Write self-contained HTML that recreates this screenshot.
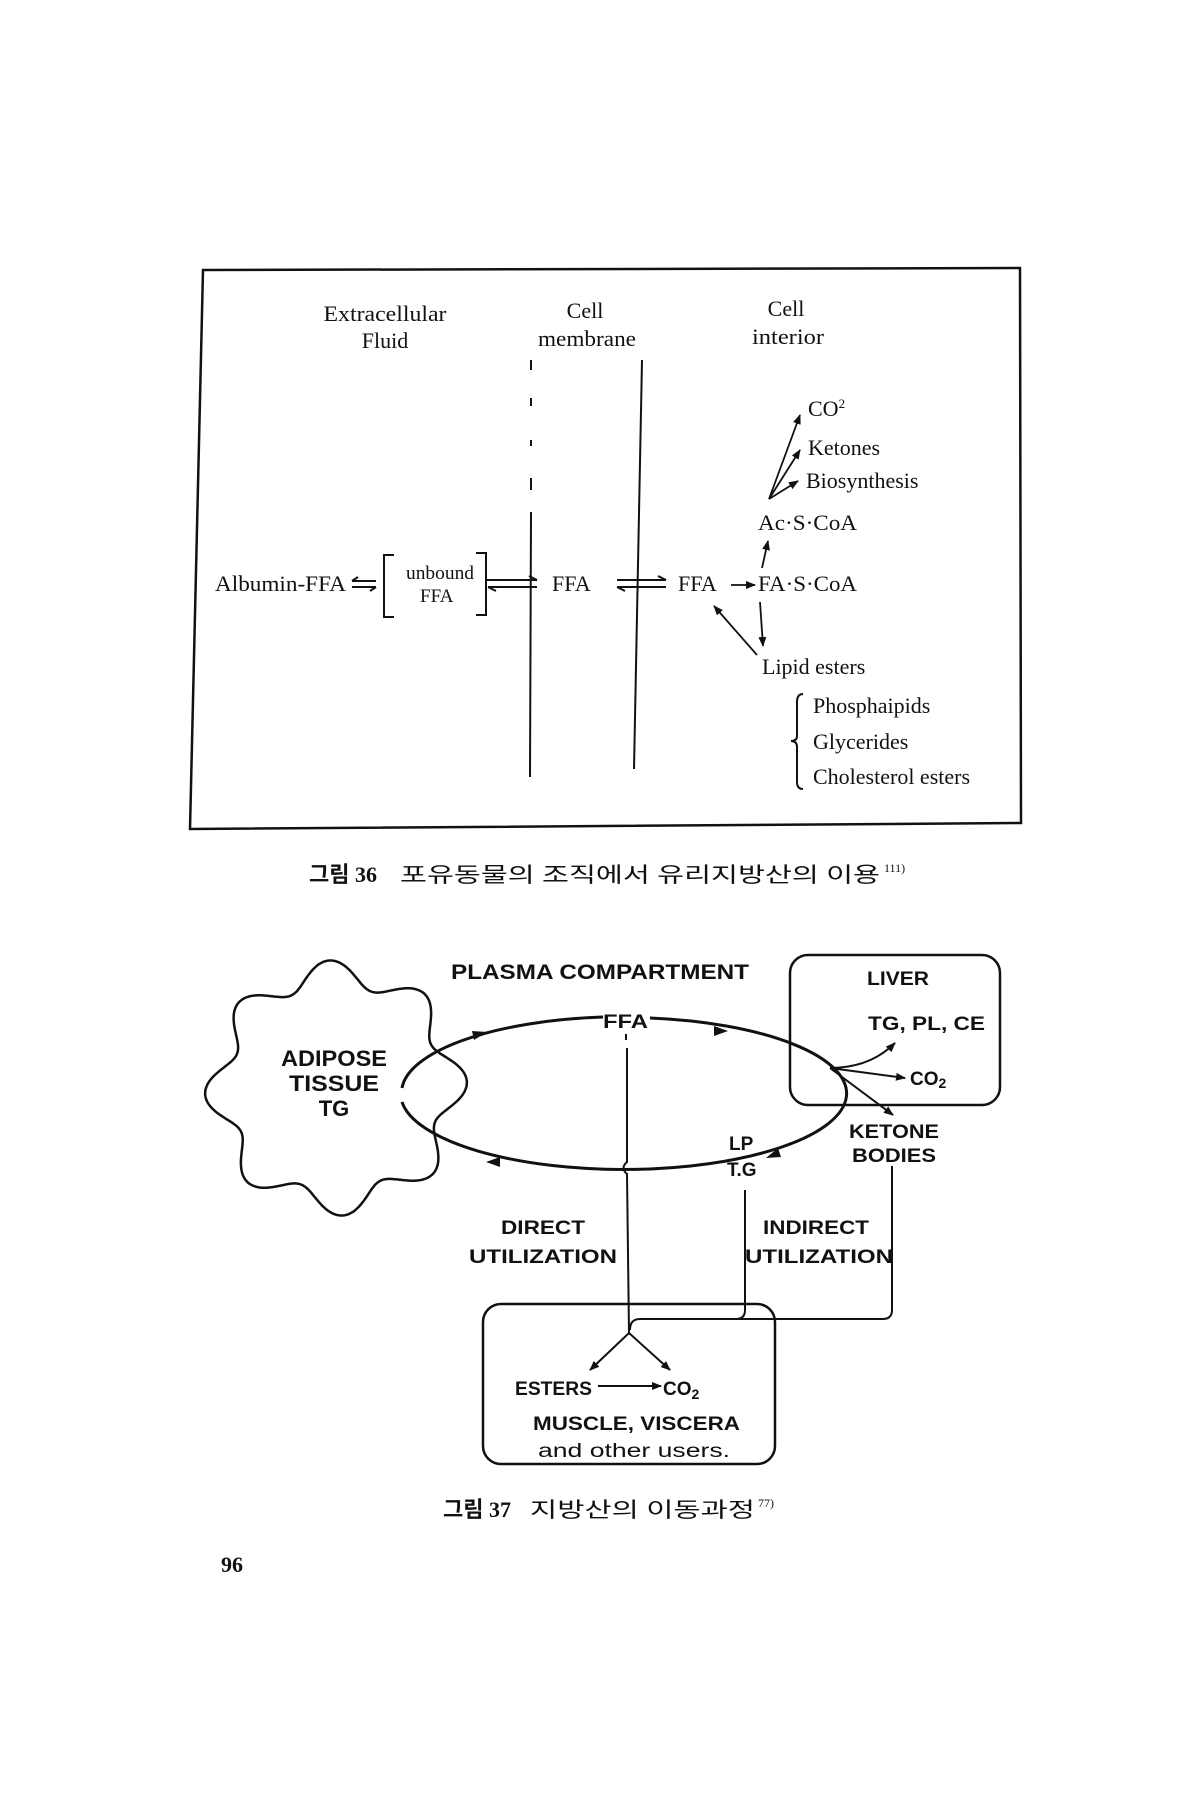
<!DOCTYPE html>
<html><head><meta charset="utf-8"><style>
html,body{margin:0;padding:0;background:#fff;}
svg{display:block;}
.s{font-family:"Liberation Serif","Noto Serif CJK SC",serif;fill:#111;}
.b{font-family:"Liberation Sans","Noto Sans CJK KR",sans-serif;font-weight:bold;fill:#111;}
.k{font-family:"Liberation Serif","Noto Sans CJK KR",serif;fill:#111;}
</style></head><body>
<svg width="1200" height="1800" viewBox="0 0 1200 1800" xmlns="http://www.w3.org/2000/svg">
<defs>
<marker id="ah" markerWidth="10" markerHeight="8" refX="9" refY="4" orient="auto" markerUnits="userSpaceOnUse"><path d="M0,0 L10,4 L0,8 z" fill="#111"/></marker>
</defs>
<rect width="1200" height="1800" fill="#fff"/>
<path d="M203,270 L1020,268 L1021,823 L190,829 Z" fill="none" stroke="#111" stroke-width="2.5"/>
<g class="s" font-size="22" text-anchor="middle">
<text x="385" y="321" textLength="123" lengthAdjust="spacingAndGlyphs">Extracellular</text>
<text x="385" y="348">Fluid</text>
<text x="585" y="318">Cell</text>
<text x="587" y="346" textLength="98" lengthAdjust="spacingAndGlyphs">membrane</text>
<text x="786" y="316">Cell</text>
<text x="788" y="344" textLength="72" lengthAdjust="spacingAndGlyphs">interior</text>
</g>
<line x1="531" y1="360" x2="531" y2="370" stroke="#111" stroke-width="2"/>
<line x1="531" y1="398" x2="531" y2="406" stroke="#111" stroke-width="2"/>
<line x1="531" y1="440" x2="531" y2="446" stroke="#111" stroke-width="2"/>
<line x1="531" y1="478" x2="531" y2="490" stroke="#111" stroke-width="2"/>
<line x1="531" y1="512" x2="530" y2="777" stroke="#111" stroke-width="2"/>
<line x1="642" y1="360" x2="634" y2="769" stroke="#111" stroke-width="2"/>
<g class="s" font-size="22">
<text x="215" y="591" textLength="131" lengthAdjust="spacingAndGlyphs">Albumin-FFA</text>
<text x="406" y="579" font-size="19" textLength="68" lengthAdjust="spacingAndGlyphs">unbound</text>
<text x="420" y="602" font-size="19">FFA</text>
<text x="552" y="591">FFA</text>
<text x="678" y="591">FFA</text>
<text x="758" y="591" textLength="99" lengthAdjust="spacingAndGlyphs">FA·S·CoA</text>
<text x="758" y="530" textLength="99" lengthAdjust="spacingAndGlyphs">Ac·S·CoA</text>
<text x="808" y="416">CO<tspan font-size="13" dy="-8">2</tspan></text>
<text x="808" y="455">Ketones</text>
<text x="806" y="488">Biosynthesis</text>
<text x="762" y="674">Lipid esters</text>
<text x="813" y="713">Phosphaipids</text>
<text x="813" y="749">Glycerides</text>
<text x="813" y="784">Cholesterol esters</text>
</g>
<path d="M394,555 L384,555 L384,617 L394,617" fill="none" stroke="#111" stroke-width="2"/>
<path d="M476,553 L486,553 L486,615 L476,615" fill="none" stroke="#111" stroke-width="2"/>
<g stroke="#111" stroke-width="2" fill="none">
<path d="M352,581 L376,581 M352,581 L358,577"/><path d="M352,587 L376,587 M376,587 L370,591"/>
<path d="M486,580 L537,580 M537,580 L529,576"/><path d="M488,587 L537,587 M488,587 L496,591"/>
<path d="M617,580 L666,580 M666,580 L658,576"/><path d="M617,587 L666,587 M617,587 L625,591"/>
</g>
<g stroke="#111" stroke-width="1.8" fill="none" marker-end="url(#ah)">
<line x1="731" y1="585" x2="755" y2="585"/>
<line x1="762" y1="568" x2="768" y2="541"/>
<line x1="769" y1="499" x2="800" y2="415"/>
<line x1="769" y1="499" x2="800" y2="450"/>
<line x1="769" y1="499" x2="798" y2="481"/>
<line x1="760" y1="602" x2="763" y2="646"/>
<line x1="757" y1="655" x2="714" y2="606"/>
</g>
<path d="M803,694 Q797,694 797,702 L797,736 Q797,741 791,741 Q797,741 797,747 L797,782 Q797,789 803,789" fill="none" stroke="#111" stroke-width="2"/>
<text class="k" x="309" y="882" font-size="22" font-weight="bold">그림 36</text>
<text class="k" x="400" y="882" font-size="21" textLength="480" lengthAdjust="spacingAndGlyphs">포유동물의 조직에서 유리지방산의 이용</text>
<text class="k" x="884" y="872" font-size="12">111)</text>

<path id="cloud" d="" fill="none" stroke="#111" stroke-width="2.5"/>
<g class="b" font-size="22" text-anchor="middle">
<text x="334" y="1066" textLength="106" lengthAdjust="spacingAndGlyphs">ADIPOSE</text>
<text x="334" y="1091" textLength="90" lengthAdjust="spacingAndGlyphs">TISSUE</text>
<text x="334" y="1116">TG</text>
</g>
<text class="b" x="451" y="979" font-size="21" textLength="298" lengthAdjust="spacingAndGlyphs">PLASMA COMPARTMENT</text>
<rect x="790" y="955" width="210" height="150" rx="18" fill="none" stroke="#111" stroke-width="2.5"/>
<g class="b" font-size="19">
<text x="867" y="985" textLength="62" lengthAdjust="spacingAndGlyphs">LIVER</text>
<text x="868" y="1030" textLength="117" lengthAdjust="spacingAndGlyphs">TG, PL, CE</text>
<text x="910" y="1085">CO<tspan font-size="14" dy="3">2</tspan></text>
<text x="849" y="1138" textLength="90" lengthAdjust="spacingAndGlyphs">KETONE</text>
<text x="852" y="1162" textLength="84" lengthAdjust="spacingAndGlyphs">BODIES</text>
<text x="603" y="1028" textLength="45" lengthAdjust="spacingAndGlyphs">FFA</text>
<text x="729" y="1150">LP</text>
<text x="727" y="1176">T.G</text>
<text x="501" y="1234" textLength="84" lengthAdjust="spacingAndGlyphs">DIRECT</text>
<text x="469" y="1263" textLength="148" lengthAdjust="spacingAndGlyphs">UTILIZATION</text>
<text x="763" y="1234" textLength="106" lengthAdjust="spacingAndGlyphs">INDIRECT</text>
<text x="745" y="1263" textLength="148" lengthAdjust="spacingAndGlyphs">UTILIZATION</text>
<text x="515" y="1395" textLength="77" lengthAdjust="spacingAndGlyphs">ESTERS</text>
<text x="663" y="1395">CO<tspan font-size="14" dy="4">2</tspan></text>
<text x="533" y="1430" textLength="207" lengthAdjust="spacingAndGlyphs">MUSCLE, VISCERA</text>
<text x="538" y="1457" font-weight="normal" textLength="192" lengthAdjust="spacingAndGlyphs">and other users.</text>
</g>
<g stroke="#111" stroke-width="3" fill="none">
<path d="M402,1088 A223,76 0 0 1 603,1017"/>
<path d="M650,1018 A223,76 0 1 1 402,1102"/>
</g>
<g fill="#111">
<path d="M487,1032 L472,1031 L474,1040 z"/>
<path d="M728,1031 L714,1026 L714,1036 z"/>
<path d="M766,1158 L778,1148 L781,1157 z"/>
<path d="M486,1162 L500,1157 L500,1167 z"/>
</g>
<g stroke="#111" stroke-width="2" fill="none" marker-end="url(#ah)">
<path d="M830,1068 Q870,1068 895,1043"/>
<line x1="830" y1="1068" x2="905" y2="1078"/>
<line x1="830" y1="1068" x2="893" y2="1115"/>
</g>
<g stroke="#111" stroke-width="2" fill="none">
<path d="M626,1034 L626,1040"/>
<path d="M627,1048 L627,1162 Q620,1168 627,1174 L629,1333"/>
<path d="M745,1190 L745,1310 Q745,1319 736,1319"/>
<path d="M892,1166 L892,1310 Q892,1319 883,1319 L640,1319 Q630,1319 630,1330"/>
</g>
<g stroke="#111" stroke-width="2" fill="none" marker-end="url(#ah)">
<line x1="629" y1="1333" x2="590" y2="1370"/>
<line x1="629" y1="1333" x2="670" y2="1370"/>
<line x1="598" y1="1386" x2="661" y2="1386"/>
</g>
<rect x="483" y="1304" width="292" height="160" rx="18" fill="none" stroke="#111" stroke-width="2.5"/>
<text class="k" x="443" y="1517" font-size="22" font-weight="bold">그림 37</text>
<text class="k" x="530" y="1517" font-size="21" textLength="225" lengthAdjust="spacingAndGlyphs">지방산의 이동과정</text>
<text class="k" x="758" y="1507" font-size="12">77)</text>
<text class="k" x="221" y="1572" font-size="22" font-weight="bold">96</text>
<script>
(function(){var cx=336,cy=1088,rx=118,ry=115,a=13,n=8,d="";for(var i=0;i<=720;i++){var t=i/720*2*Math.PI;var f=1+a/rx*Math.cos(n*t+0.39);var x=cx+rx*f*Math.cos(t),y=cy+ry*f*Math.sin(t);d+=(i?"L":"M")+x.toFixed(1)+","+y.toFixed(1);}document.getElementById("cloud").setAttribute("d",d+"Z");})();
</script>
</svg>
</body></html>
